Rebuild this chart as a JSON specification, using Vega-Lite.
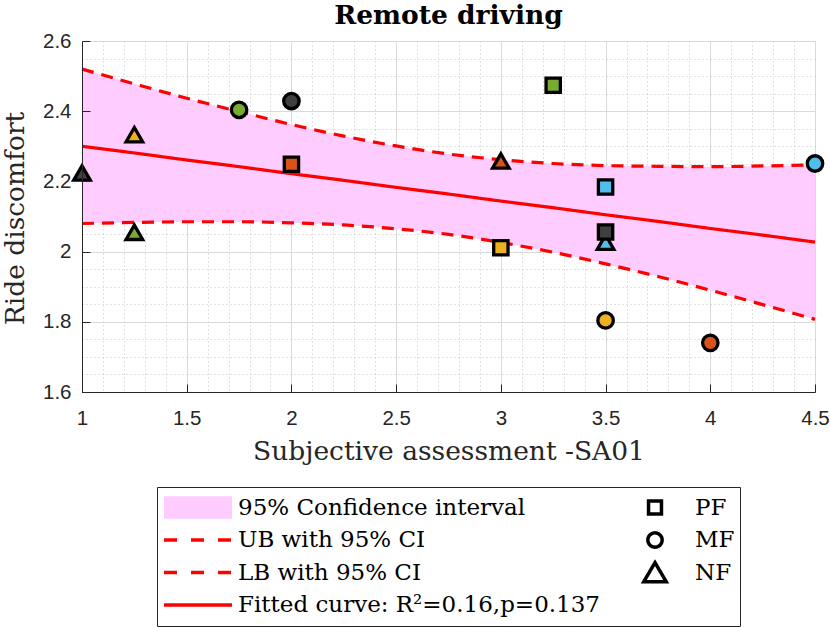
{
  "$schema": "https://vega.github.io/schema/vega-lite/v6.json",
  "width": 733,
  "height": 351,
  "autosize": {"type": "none"},
  "padding": {"left": 82, "top": 41, "right": 15, "bottom": 236},
  "background": "white",
  "title": {
    "text": "Remote driving",
    "font": "DejaVu Serif",
    "fontSize": 26.5,
    "fontWeight": "bold",
    "color": "black",
    "anchor": "middle",
    "baseline": "alphabetic",
    "offset": 10,
    "dy": 29
  },
  "config": {
    "view": {"stroke": null}
  },
  "resolve": {"axis": {"x": "independent", "y": "independent"}},
  "datasets": {
    "band": [
      {"x": 1.0, "lb": 2.080, "ub": 2.520, "fit": 2.300},
      {"x": 1.25, "lb": 2.083, "ub": 2.478, "fit": 2.281},
      {"x": 1.5, "lb": 2.085, "ub": 2.437, "fit": 2.261},
      {"x": 1.75, "lb": 2.085, "ub": 2.399, "fit": 2.242},
      {"x": 2.0, "lb": 2.082, "ub": 2.362, "fit": 2.222},
      {"x": 2.25, "lb": 2.076, "ub": 2.329, "fit": 2.203},
      {"x": 2.5, "lb": 2.065, "ub": 2.301, "fit": 2.183},
      {"x": 2.75, "lb": 2.049, "ub": 2.278, "fit": 2.164},
      {"x": 3.0, "lb": 2.026, "ub": 2.262, "fit": 2.144},
      {"x": 3.25, "lb": 1.998, "ub": 2.251, "fit": 2.125},
      {"x": 3.5, "lb": 1.965, "ub": 2.245, "fit": 2.105},
      {"x": 3.75, "lb": 1.929, "ub": 2.243, "fit": 2.086},
      {"x": 4.0, "lb": 1.890, "ub": 2.242, "fit": 2.066},
      {"x": 4.25, "lb": 1.849, "ub": 2.244, "fit": 2.047},
      {"x": 4.5, "lb": 1.807, "ub": 2.247, "fit": 2.027}
    ],
    "points": [
      {"sa": 1.0, "rd": 2.224, "condition": "NF", "participant": "S2"},
      {"sa": 1.25, "rd": 2.333, "condition": "NF", "participant": "S4"},
      {"sa": 1.25, "rd": 2.055, "condition": "NF", "participant": "S1"},
      {"sa": 3.0, "rd": 2.258, "condition": "NF", "participant": "S3"},
      {"sa": 3.5, "rd": 2.027, "condition": "NF", "participant": "S5"},
      {"sa": 1.75, "rd": 2.404, "condition": "MF", "participant": "S1"},
      {"sa": 2.0, "rd": 2.429, "condition": "MF", "participant": "S2"},
      {"sa": 3.5, "rd": 1.804, "condition": "MF", "participant": "S4"},
      {"sa": 4.0, "rd": 1.740, "condition": "MF", "participant": "S3"},
      {"sa": 4.5, "rd": 2.251, "condition": "MF", "participant": "S5"},
      {"sa": 2.0, "rd": 2.249, "condition": "PF", "participant": "S3"},
      {"sa": 3.0, "rd": 2.011, "condition": "PF", "participant": "S4"},
      {"sa": 3.25, "rd": 2.474, "condition": "PF", "participant": "S1"},
      {"sa": 3.5, "rd": 2.184, "condition": "PF", "participant": "S5"},
      {"sa": 3.5, "rd": 2.056, "condition": "PF", "participant": "S2"}
    ]
  },
  "layer": [
    {
      "data": {"name": "band"},
      "mark": {"type": "area", "color": "#ffccff", "opacity": 1, "interpolate": "monotone"},
      "encoding": {
        "x": {
          "field": "x", "type": "quantitative",
          "scale": {"domain": [1, 4.5], "nice": false, "zero": false},
          "axis": {
            "orient": "bottom",
            "values": [1.1, 1.2, 1.3, 1.4, 1.6, 1.7, 1.8, 1.9, 2.1, 2.2, 2.3, 2.4, 2.6, 2.7, 2.8, 2.9, 3.1, 3.2, 3.3, 3.4, 3.6, 3.7, 3.8, 3.9, 4.1, 4.2, 4.3, 4.4],
            "grid": true, "gridColor": "#c4c4c4", "gridDash": [1, 3], "gridWidth": 1,
            "labels": false, "ticks": false, "domain": false, "title": null, "zindex": 0
          }
        },
        "y": {
          "field": "lb", "type": "quantitative",
          "scale": {"domain": [1.6, 2.6], "nice": false, "zero": false},
          "axis": {
            "orient": "left",
            "values": [1.65, 1.7, 1.75, 1.85, 1.9, 1.95, 2.05, 2.1, 2.15, 2.25, 2.3, 2.35, 2.45, 2.5, 2.55],
            "grid": true, "gridColor": "#c4c4c4", "gridDash": [1, 3], "gridWidth": 1,
            "labels": false, "ticks": false, "domain": false, "title": null, "zindex": 0
          }
        },
        "y2": {"field": "ub"}
      }
    },
    {
      "data": {"name": "band"},
      "transform": [{"fold": ["ub", "lb", "fit"], "as": ["series", "y"]}],
      "mark": {"type": "line", "interpolate": "monotone"},
      "encoding": {
        "x": {
          "field": "x", "type": "quantitative",
          "axis": {
            "orient": "bottom",
            "values": [1, 1.5, 2, 2.5, 3, 3.5, 4, 4.5],
            "grid": true, "gridColor": "#dadada", "gridWidth": 1,
            "labels": false, "ticks": false, "domain": false, "title": null, "zindex": 0
          }
        },
        "y": {
          "field": "y", "type": "quantitative",
          "axis": {
            "orient": "left",
            "values": [1.6, 1.8, 2, 2.2, 2.4, 2.6],
            "grid": true, "gridColor": "#dadada", "gridWidth": 1,
            "labels": false, "ticks": false, "domain": false, "title": null, "zindex": 0
          }
        },
        "strokeDash": {
          "field": "series", "type": "nominal",
          "scale": {"domain": ["ub", "lb", "fit"], "range": [[12, 8], [12, 8], [1, 0]]},
          "legend": null
        },
        "strokeWidth": {
          "field": "series", "type": "nominal",
          "scale": {"domain": ["ub", "lb", "fit"], "range": [3.2, 3.2, 4]},
          "legend": null
        },
        "color": {
          "field": "series", "type": "nominal",
          "scale": {
            "domain": ["ci", "ub", "lb", "fit", "pf", "mf", "nf"],
            "range": ["#ffccff", "#ff0000", "#ff0000", "#ff0000", "black", "black", "black"]
          },
          "legend": {
            "title": null,
            "orient": "none",
            "legendX": 75,
            "legendY": 446,
            "direction": "vertical",
            "columns": 2,
            "gridAlign": "each",
            "padding": 5,
            "strokeColor": "#262626",
            "fillColor": "white",
            "cornerRadius": 0,
            "clipHeight": 31,
            "rowPadding": 1.5,
            "columnPadding": 19,
            "symbolType": "stroke",
            "symbolSize": 4624,
            "symbolStrokeWidth": 3.5,
            "symbolOffset": 24.5,
            "labelOffset": 28.5,
            "labelLimit": 0,
            "labelFont": "DejaVu Serif",
            "labelFontSize": 23,
            "labelColor": "black",
            "labelBaseline": "middle",
            "labelExpr": "datum.value == 'ci' ? '95% Confidence interval' : datum.value == 'ub' ? 'UB with 95% CI' : datum.value == 'lb' ? 'LB with 95% CI' : datum.value == 'fit' ? 'Fitted curve: R²=0.16,p=0.137' : datum.value == 'pf' ? 'PF' : datum.value == 'mf' ? 'MF' : 'NF'",
            "encode": {
              "symbols": {
                "update": {
                  "size": {"value": 4624},
                  "shape": {"signal": "datum.value == 'ci' ? 'M-1,-0.33H1V0.33H-1Z' : datum.value == 'pf' ? 'M-0.19,-0.19H0.19V0.19H-0.19Z' : datum.value == 'mf' ? 'M0.21,0A0.21,0.21,0,1,1,-0.21,0A0.21,0.21,0,1,1,0.21,0Z' : datum.value == 'nf' ? 'M0,-0.29L0.33,0.27L-0.33,0.27Z' : 'stroke'"},
                  "fill": {"signal": "datum.value == 'ci' ? '#ffccff' : (datum.value == 'pf' || datum.value == 'mf' || datum.value == 'nf') ? 'white' : 'transparent'"},
                  "strokeWidth": {"signal": "datum.value == 'ci' ? 0 : 3.5"},
                  "strokeDash": {"signal": "(datum.value == 'ub' || datum.value == 'lb') ? [13, 14] : [1, 0]"},
                  "opacity": {"value": 1}
                }
              }
            }
          }
        }
      }
    },
    {
      "data": {"name": "points"},
      "mark": {"type": "point", "filled": true, "stroke": "black", "strokeWidth": 3.3, "opacity": 1, "fillOpacity": 1, "strokeOpacity": 1},
      "encoding": {
        "x": {
          "field": "sa", "type": "quantitative",
          "axis": {
            "orient": "bottom",
            "values": [1, 1.5, 2, 2.5, 3, 3.5, 4, 4.5],
            "format": "~g",
            "grid": false,
            "domainColor": "#262626", "domainWidth": 1,
            "tickColor": "#262626", "tickSize": -8, "tickWidth": 1,
            "labelPadding": 24, "labelFont": "Liberation Sans", "labelFontSize": 20.5,
            "labelColor": "#262626", "labelFlush": false, "labelOverlap": false,
            "title": "Subjective assessment -SA01",
            "titleFont": "DejaVu Serif", "titleFontSize": 26.5, "titleFontWeight": "normal",
            "titleColor": "#262626", "titleBaseline": "alphabetic",
            "titleX": 366.5, "titleY": 67.5, "titleAlign": "center",
            "zindex": 1
          }
        },
        "y": {
          "field": "rd", "type": "quantitative",
          "axis": {
            "orient": "left",
            "values": [1.6, 1.8, 2, 2.2, 2.4, 2.6],
            "format": "~g",
            "grid": false,
            "domainColor": "#262626", "domainWidth": 1,
            "tickColor": "#262626", "tickSize": -8, "tickWidth": 1,
            "labelPadding": 19, "labelFont": "Liberation Sans", "labelFontSize": 20.5,
            "labelColor": "#262626", "labelFlush": false, "labelOverlap": false,
            "title": "Ride discomfort",
            "titleFont": "DejaVu Serif", "titleFontSize": 26.5, "titleFontWeight": "normal",
            "titleColor": "#262626", "titleBaseline": "alphabetic", "titleAngle": -90,
            "titleX": -59, "titleY": 177, "titleAlign": "center",
            "zindex": 1
          }
        },
        "shape": {
          "field": "condition", "type": "nominal",
          "scale": {"domain": ["PF", "MF", "NF"], "range": ["square", "circle", "triangle-up"]},
          "legend": null
        },
        "size": {
          "field": "condition", "type": "nominal",
          "scale": {"domain": ["PF", "MF", "NF"], "range": [205, 275, 430]},
          "legend": null
        },
        "fill": {
          "field": "participant", "type": "nominal",
          "scale": {"domain": ["S1", "S2", "S3", "S4", "S5"], "range": ["#77ac30", "#404040", "#d95319", "#edb120", "#4dbeee"]},
          "legend": null
        }
      }
    }
  ]
}
